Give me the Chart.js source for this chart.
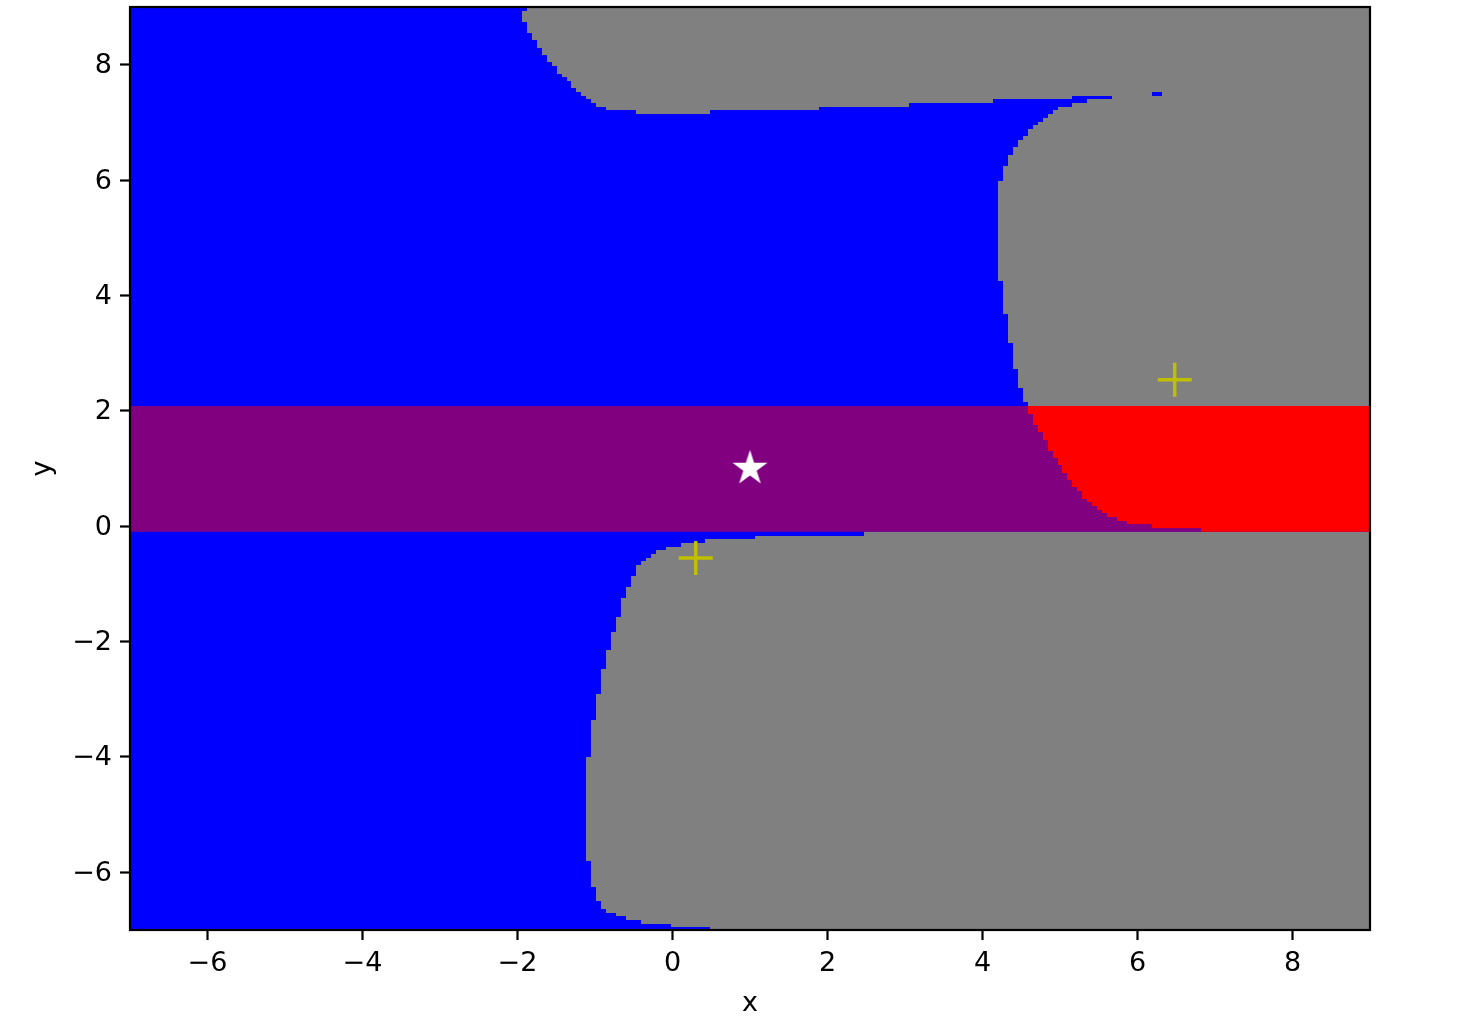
<!DOCTYPE html>
<html>
<head>
<meta charset="utf-8">
<title>regiones</title>
<script src="https://cdn.jsdelivr.net/npm/chart.js@4.4.1/dist/chart.umd.min.js"></script>
<style>
  html, body { margin: 0; padding: 0; background: #fff; }
  #wrap { width: 1472px; height: 1030px; }
</style>
</head>
<body>
<div id="wrap"><canvas id="myChart"></canvas></div>
<script>
const grafica = document.getElementById("myChart");

const xMin = -7, xMax = 9, yMin = -7, yMax = 9;
const xTicks = [-6, -4, -2, 0, 2, 4, 6, 8];
const yTicks = [-6, -4, -2, 0, 2, 4, 6, 8];

// fondo azul (toda la ventana)
const fondoX = [-7, 9, 9, -7];
const fondoY = [9, 9, -7, -7];

// region gris de arriba (incluye el lobulo de la derecha)
const grisArribaX = [-1.877, 9, 9, 4.587, 4.523, 4.458, 4.394, 4.329, 4.265, 4.2, 4.265, 4.329, 4.394, 4.458, 4.523, 4.587, 4.652, 4.716, 4.781, 4.845, 4.91, 4.974, 5.155, 5.348, 5.671, 5.155, 4.135, 3.052, 1.89, 0.484, -0.471, -0.858, -0.987, -1.052, -1.116, -1.181, -1.245, -1.31, -1.361, -1.426, -1.49, -1.555, -1.619, -1.684, -1.748, -1.813, -1.877, -1.942, -1.877];
const grisArribaY = [9, 9, 2.0, 2.153, 2.395, 2.725, 3.176, 3.678, 4.25, 5.984, 6.244, 6.435, 6.573, 6.695, 6.764, 6.885, 6.955, 7.007, 7.076, 7.145, 7.215, 7.267, 7.336, 7.405, 7.457, 7.405, 7.336, 7.267, 7.215, 7.145, 7.215, 7.267, 7.336, 7.405, 7.457, 7.527, 7.596, 7.717, 7.787, 7.839, 7.977, 8.047, 8.168, 8.289, 8.428, 8.549, 8.74, 8.931, 9];

// region gris de abajo
const grisAbajoX = [9, 2.471, 1.065, 0.419, 0.11, -0.084, -0.213, -0.277, -0.342, -0.406, -0.471, -0.535, -0.6, -0.665, -0.729, -0.794, -0.858, -0.923, -0.987, -1.052, -1.116, -1.052, -0.987, -0.923, -0.858, -0.729, -0.6, -0.406, -0.019, 0.484, 9];
const grisAbajoY = [-0.09, -0.17, -0.222, -0.291, -0.361, -0.413, -0.482, -0.551, -0.603, -0.673, -0.863, -1.054, -1.245, -1.574, -1.834, -2.146, -2.476, -2.909, -3.36, -4.001, -5.804, -6.255, -6.497, -6.636, -6.705, -6.757, -6.827, -6.896, -6.948, -7, -7];

// celda azul suelta arriba a la derecha
const celdaX = [6.187, 6.316, 6.316, 6.187];
const celdaY = [7.527, 7.527, 7.457, 7.457];

// franja morada
const franjaX = [-7, 9, 9, -7];
const franjaY = [2.083, 2.083, -0.095, -0.095];

// zona roja
const rojoX = [4.587, 9, 9, 6.819, 6.187, 5.865, 5.735, 5.606, 5.542, 5.477, 5.413, 5.348, 5.284, 5.219, 5.155, 5.09, 5.026, 4.974, 4.91, 4.845, 4.781, 4.716, 4.652, 4.587];
const rojoY = [2.083, 2.083, -0.095, -0.031, 0.038, 0.09, 0.159, 0.229, 0.281, 0.35, 0.419, 0.471, 0.61, 0.679, 0.801, 0.922, 1.061, 1.182, 1.303, 1.494, 1.633, 1.754, 1.945, 2.083];

// marcadores
const estrellaX = [1];
const estrellaY = [1];
const cruzX = [0.3, 6.48];
const cruzY = [-0.55, 2.54];

const puntos = (xs, ys) => xs.map((x, i) => ({ x, y: ys[i] }));

const capa = (label, xs, ys, color, orden) => ({
  label,
  data: puntos(xs, ys),
  showLine: true,
  stepped: "before",
  fill: "shape",
  backgroundColor: color,
  borderWidth: 0,
  pointRadius: 0,
  order: orden,
});

const makeStar = (r) => {
  const size = Math.ceil(r * 2 + 4);
  const c = document.createElement("canvas");
  c.width = size;
  c.height = size;
  const g = c.getContext("2d");
  g.fillStyle = "#ffffff";
  g.beginPath();
  for (let i = 0; i < 10; i++) {
    const rr = i % 2 ? r * 0.381966 : r;
    const ang = -Math.PI / 2 + (i * Math.PI) / 5;
    const px = size / 2 + rr * Math.cos(ang);
    const py = size / 2 + rr * Math.sin(ang);
    if (i === 0) g.moveTo(px, py);
    else g.lineTo(px, py);
  }
  g.closePath();
  g.fill();
  return c;
};

const menos = (v) => (v < 0 ? "\u2212" + Math.abs(v) : String(v));

const fuente = { family: "'DejaVu Sans'", size: 27 };

const marco = {
  id: "marco",
  afterDatasetsDraw(chart) {
    const { ctx, chartArea: a } = chart;
    ctx.save();
    ctx.strokeStyle = "#000";
    ctx.lineWidth = 2.2;
    ctx.strokeRect(a.left, a.top, a.right - a.left, a.bottom - a.top);
    ctx.restore();
  },
};

const datasets = [
  capa("fondo", fondoX, fondoY, "#0000ff", 10),
  capa("gris arriba", grisArribaX, grisArribaY, "#808080", 8),
  capa("gris abajo", grisAbajoX, grisAbajoY, "#808080", 8),
  capa("celda", celdaX, celdaY, "#0000ff", 7),
  capa("franja", franjaX, franjaY, "#800080", 5),
  capa("rojo", rojoX, rojoY, "#ff0000", 4),
  {
    label: "estrella",
    data: puntos(estrellaX, estrellaY),
    showLine: false,
    pointStyle: makeStar(18.4),
    pointRadius: 18,
    order: 1,
  },
  {
    label: "cruces",
    data: puntos(cruzX, cruzY),
    showLine: false,
    pointStyle: "cross",
    pointRadius: 17,
    pointBorderWidth: 3.5,
    pointBorderColor: "#bfbf00",
    pointBackgroundColor: "#bfbf00",
    order: 0,
  },
];

const ejeGrid = {
  display: true,
  drawOnChartArea: false,
  drawTicks: true,
  tickLength: 10,
  tickWidth: 2.2,
  tickColor: "#000",
};

const config = {
  type: "scatter",
  data: { datasets },
  options: {
    responsive: true,
    maintainAspectRatio: false,
    animation: false,
    events: [],
    devicePixelRatio: 1,
    layout: { autoPadding: false, padding: { left: 0, top: 7, right: 102, bottom: 0 } },
    plugins: { legend: { display: false }, tooltip: { enabled: false } },
    scales: {
      x: {
        type: "linear",
        min: xMin,
        max: xMax,
        afterBuildTicks: (s) => {
          s.ticks = xTicks.map((v) => ({ value: v }));
        },
        afterFit: (s) => {
          s.height = 100;
          s.paddingLeft = 0;
          s.paddingRight = 0;
        },
        grid: ejeGrid,
        border: { display: false },
        ticks: { color: "#000", font: fuente, padding: 8, maxRotation: 0, autoSkip: false, callback: menos },
        title: { display: true, text: "x", color: "#000", font: fuente, padding: { top: 0, bottom: 10 } },
      },
      y: {
        type: "linear",
        min: yMin,
        max: yMax,
        afterBuildTicks: (s) => {
          s.ticks = yTicks.map((v) => ({ value: v }));
        },
        afterFit: (s) => {
          s.width = 130;
          s.paddingTop = 0;
          s.paddingBottom = 0;
        },
        grid: ejeGrid,
        border: { display: false },
        ticks: { color: "#000", font: fuente, padding: 8, labelOffset: 1.5, autoSkip: false, callback: menos },
        title: { display: true, text: "y", color: "#000", font: fuente, padding: { top: 27, bottom: 0 } },
      },
    },
  },
  plugins: [marco],
};

const mychart = new Chart(grafica, config);
</script>
</body>
</html>
